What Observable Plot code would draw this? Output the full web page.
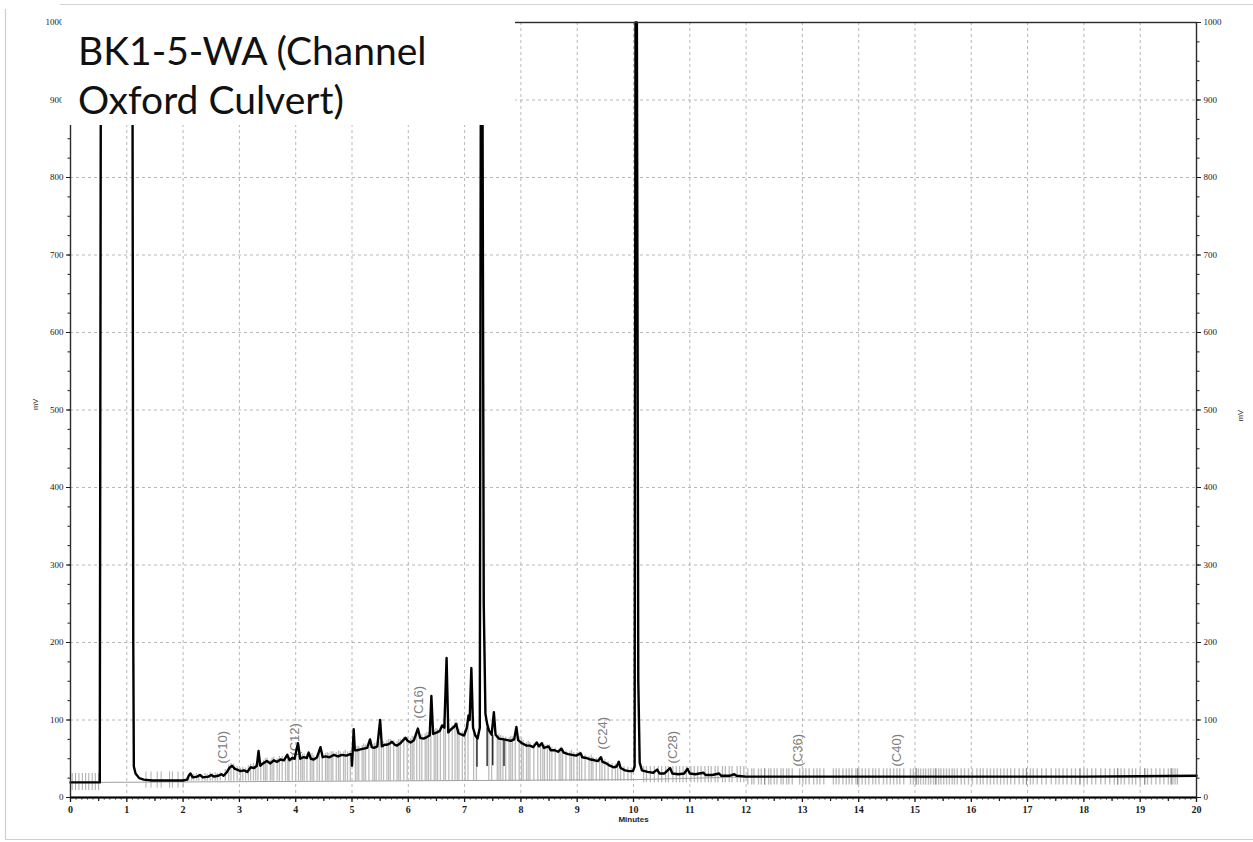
<!DOCTYPE html>
<html>
<head>
<meta charset="utf-8">
<script src="https://cdn.jsdelivr.net/npm/d3@7"></script>
<script src="https://cdn.jsdelivr.net/npm/@observablehq/plot@0.6"></script>
<style>
  body { margin: 0; background: #fff; }
  #wrap { position: relative; width: 1253px; height: 842px; overflow: hidden; background: #fff; }
  #chart { position: absolute; left: 0; top: 0; }
  #overlay { position: absolute; left: 0; top: 0; pointer-events: none; }
</style>
</head>
<body>
<div id="wrap">
  <div id="chart"></div>
  <svg id="overlay" width="1253" height="842">
    <!-- sheet border -->
    <line x1="5.5" y1="9" x2="5.5" y2="839" stroke="#cfcfcf" stroke-width="1.2"/>
    <line x1="5" y1="839.5" x2="1253" y2="839.5" stroke="#cfcfcf" stroke-width="1.2"/>
    <line x1="60" y1="4.5" x2="1253" y2="4.5" stroke="#d4d4d4" stroke-width="1.2"/>
    <!-- sample name panel -->
    <rect x="62" y="6" width="453" height="119" fill="#fff"/>
    <text x="78" y="65" font-family="Lato" font-size="39" fill="#111">BK1-5-WA (Channel</text>
    <text x="78" y="114" font-family="Lato" font-size="39" fill="#111">Oxford Culvert)</text>
  </svg>
</div>
<script>
// FID chromatogram: retention time (min) vs detector response (mV)
const solventFront = [
  [0, 19.5], [0.52, 19.5], [0.54, 1000], [1.10, 1000], [1.115, 200], [1.125, 40],
  [1.155, 31], [1.22, 25], [1.30, 23], [1.45, 22], [1.70, 22], [2.00, 22]
];

const hydrocarbonHump = [
  [2.07, 23], [2.10, 28], [2.13, 31], [2.17, 26], [2.25, 27], [2.30, 29], [2.35, 26],
  [2.45, 27], [2.50, 29], [2.55, 27], [2.62, 28], [2.68, 30], [2.72, 28], [2.78, 33],
  [2.82, 38], [2.87, 41], [2.92, 37], [2.96, 36], [3.02, 34], [3.08, 35], [3.14, 33],
  [3.20, 39], [3.26, 38], [3.31, 41], [3.34, 60], [3.37, 41], [3.42, 44], [3.49, 47],
  [3.55, 44], [3.61, 48], [3.67, 46], [3.73, 49], [3.79, 48], [3.85, 55], [3.89, 48],
  [3.94, 51], [3.98, 50], [4.04, 70], [4.08, 50], [4.14, 52], [4.20, 51], [4.23, 58],
  [4.27, 50], [4.32, 49], [4.38, 52], [4.44, 65], [4.48, 52], [4.53, 53], [4.60, 52],
  [4.68, 55], [4.75, 53], [4.82, 55], [4.90, 54], [4.97, 56], [4.99, 56], [5.00, 41],
  [5.01, 56], [5.03, 88], [5.05, 61], [5.09, 61], [5.15, 62], [5.21, 63], [5.27, 64],
  [5.32, 75], [5.35, 65], [5.39, 64], [5.45, 66], [5.50, 100], [5.53, 66], [5.58, 68],
  [5.62, 68], [5.68, 70], [5.71, 72], [5.76, 68], [5.80, 67], [5.86, 70], [5.91, 74],
  [5.95, 77], [5.99, 73], [6.04, 71], [6.10, 74], [6.17, 89], [6.21, 77], [6.27, 76],
  [6.33, 78], [6.38, 80], [6.41, 131], [6.44, 82], [6.51, 84], [6.56, 86], [6.60, 93],
  [6.64, 90], [6.68, 180], [6.71, 84], [6.76, 88], [6.81, 91], [6.85, 95], [6.89, 83],
  [6.95, 81], [6.99, 80], [7.04, 90], [7.07, 106], [7.09, 100], [7.12, 167], [7.15, 90],
  [7.19, 80], [7.23, 76], [7.27, 90], [7.29, 1000], [7.315, 1000], [7.34, 250],
  [7.37, 108], [7.40, 95], [7.43, 87], [7.48, 81], [7.52, 110], [7.55, 81], [7.61, 76],
  [7.70, 75], [7.76, 74], [7.82, 73], [7.88, 75], [7.92, 91], [7.95, 74], [8.02, 70],
  [8.10, 67], [8.16, 67], [8.22, 65], [8.28, 71], [8.32, 66], [8.37, 70], [8.41, 64],
  [8.49, 66], [8.53, 61], [8.60, 61], [8.66, 59], [8.72, 63], [8.76, 58], [8.84, 56],
  [8.91, 55], [8.98, 54], [9.06, 57], [9.09, 52], [9.16, 51], [9.24, 49], [9.31, 48],
  [9.37, 47], [9.42, 52], [9.45, 46], [9.52, 44], [9.58, 41], [9.65, 39], [9.70, 40],
  [9.74, 46], [9.77, 38], [9.85, 35], [9.92, 34], [9.99, 34], [10.02, 40]
];

const lateElution = [
  [10.035, 1000], [10.06, 1000], [10.085, 150], [10.11, 45], [10.15, 35], [10.25, 33],
  [10.35, 32], [10.42, 36], [10.46, 31], [10.55, 31], [10.65, 38], [10.69, 31],
  [10.80, 30], [10.90, 31], [10.96, 37], [11.00, 31], [11.10, 30], [11.24, 32],
  [11.28, 29], [11.40, 29], [11.52, 31], [11.56, 28], [11.70, 28], [11.79, 30],
  [11.83, 28], [12, 27], [13, 27], [14, 27], [15, 27], [16, 27], [17, 27], [18, 27],
  [19, 27.5], [20, 28]
];

// Integration baseline
const integrationBaseline = [[0.52, 19.5], [10.0, 23], [12.0, 26.5]];

// Peak-event markers (retention times) and their vertical extents in mV
const earlyEventTimes = [0.03, 0.09, 0.15, 0.21, 0.27, 0.325, 0.385, 0.44, 0.50];
const earlyEventSpan = [9, 31];
const solventTailEventTimes = [1.34, 1.43, 1.54, 1.61, 1.76, 1.81, 1.91, 2.00];
const solventTailEventSpan = [12, 33];
const humpEventFloor = 21;
const humpEvents = [
  [2.10, 30], [2.15, 31], [2.19, 30], [2.24, 31], [2.28, 30], [2.34, 29], [2.39, 31],
  [2.43, 30], [2.48, 32], [2.52, 31], [2.57, 32], [2.61, 31], [2.66, 32], [2.75, 36],
  [2.81, 42], [2.85, 44], [2.90, 43], [2.96, 40], [3.02, 38], [3.06, 39], [3.11, 38],
  [3.16, 41], [3.20, 43], [3.25, 44], [3.29, 43], [3.33, 47], [3.38, 46], [3.43, 48],
  [3.46, 50], [3.49, 51], [3.55, 48], [3.58, 51], [3.61, 52], [3.67, 50], [3.71, 53],
  [3.76, 53], [3.82, 52], [3.86, 56], [3.88, 53], [3.94, 55], [4.00, 54], [4.05, 57],
  [4.09, 54], [4.12, 56], [4.15, 56], [4.20, 56], [4.26, 55], [4.29, 57], [4.32, 54],
  [4.38, 56], [4.42, 58], [4.47, 56], [4.53, 57], [4.56, 58], [4.59, 57], [4.63, 59],
  [4.66, 59], [4.72, 58], [4.76, 60], [4.79, 59], [4.85, 59], [4.88, 61], [4.92, 59],
  [4.97, 60], [5.06, 65], [5.09, 66], [5.12, 66], [5.18, 67], [5.21, 69], [5.24, 68],
  [5.30, 69], [5.37, 68], [5.40, 70], [5.43, 70], [5.48, 71], [5.52, 73], [5.56, 72],
  [5.62, 73], [5.65, 75], [5.68, 75], [5.74, 73], [5.80, 72], [5.83, 75], [5.86, 75],
  [5.92, 78], [5.98, 78], [6.04, 76], [6.07, 79], [6.10, 78], [6.15, 82], [6.20, 82],
  [6.24, 81], [6.30, 82], [6.33, 84], [6.36, 84], [6.40, 86], [6.46, 87], [6.49, 89],
  [6.52, 88], [6.57, 90], [6.63, 94], [6.66, 96], [6.72, 89], [6.78, 93], [6.83, 97],
  [6.87, 96], [6.90, 88], [6.96, 85], [7.01, 86], [7.06, 95], [7.16, 88], [7.21, 80],
  [7.43, 90], [7.48, 85], [7.58, 80], [7.61, 82], [7.64, 80], [7.68, 79], [7.73, 78],
  [7.79, 77], [7.82, 79], [7.85, 78], [7.90, 80], [7.97, 78], [8.01, 77], [8.04, 74],
  [8.10, 71], [8.13, 73], [8.16, 71], [8.23, 69], [8.30, 70], [8.35, 70], [8.39, 71],
  [8.42, 68], [8.47, 68], [8.51, 68], [8.55, 65], [8.61, 64], [8.68, 63], [8.71, 65],
  [8.74, 62], [8.80, 60], [8.87, 59], [8.90, 61], [8.94, 58], [9.00, 58], [9.04, 59],
  [9.08, 56], [9.14, 55], [9.21, 53], [9.25, 55], [9.28, 52], [9.34, 51], [9.40, 50],
  [9.44, 52], [9.49, 49], [9.55, 46], [9.62, 44], [9.68, 43], [9.72, 46], [9.77, 42],
  [9.83, 40], [9.90, 39], [9.96, 38]
];
// Darker event strokes below the main peak: [time, bottom, top]
const mainPeakEvents = [[7.22, 39, 77], [7.40, 40, 90], [7.50, 41, 80], [7.70, 40, 75]];

const tailEventTimes = [
  10.18, 10.23, 10.30, 10.37, 10.44, 10.50, 10.57, 10.62, 10.70, 10.76, 10.82, 10.88,
  10.94, 11.02, 11.08, 11.14, 11.20, 11.27, 11.33, 11.38, 11.45, 11.50, 11.58, 11.63,
  11.70, 11.75, 11.84, 11.90, 11.96
];
const tailEventSpan = [19, 40];
const plateauEventTimes = [
  12.03, 12.10, 12.14, 12.22, 12.27, 12.33, 12.40, 12.44, 12.50, 12.55, 12.62, 12.66,
  12.72, 12.76, 12.82, 12.95, 13.01, 13.06, 13.12, 13.20, 13.26, 13.31, 13.38, 13.55,
  13.60, 13.65, 13.72, 13.78, 13.83, 13.88, 13.95, 14.00, 14.06, 14.12, 14.18, 14.25,
  14.30, 14.36, 14.44, 14.50, 14.56, 14.62, 14.68, 14.73, 14.80, 14.92, 14.97, 15.02,
  15.06, 15.10, 15.15, 15.19, 15.24, 15.28, 15.33, 15.37, 15.42, 15.46, 15.51, 15.56,
  15.61, 15.66, 15.70, 15.75, 15.82, 15.88, 15.95, 16.02, 16.10, 16.16, 16.21, 16.28,
  16.34, 16.40, 16.46, 16.52, 16.58, 16.64, 16.70, 16.77, 16.85, 16.92, 16.98, 17.05,
  17.10, 17.17, 17.25, 17.33, 17.42, 17.50, 17.56, 17.63, 17.70, 17.78, 17.85, 17.93,
  18.00, 18.06, 18.14, 18.21, 18.30, 18.38, 18.46, 18.54, 18.60, 18.66, 18.72, 18.80,
  18.86, 18.92, 19.00, 19.08, 19.13, 19.20, 19.28, 19.35, 19.42, 19.50, 19.55, 19.58,
  19.62, 19.66
];
const plateauDarkTimes = [12.33, 13.98, 15.02, 15.37, 16.98, 17.93, 18.60, 19.08, 19.55];
const plateauEventSpan = [16, 37];

// n-alkane retention markers
const carbonLabels = ["(C10)", "(C12)", "(C16)", "(C24)", "(C28)", "(C36)", "(C40)"];
const carbonTimes = [2.70, 3.98, 6.18, 9.45, 10.69, 12.91, 14.67];
const carbonLabelBase = [44, 54, 102, 62, 44, 40, 40];

// Axis ticks
const minuteTicks = [0, 1, 2, 3, 4, 5, 6, 7, 8, 9, 10, 11, 12, 13, 14, 15, 16, 17, 18, 19, 20];
const mvTicks = [0, 100, 200, 300, 400, 500, 600, 700, 800, 900, 1000];

const minorMinuteTicks = d3.range(0, 20.001, 0.1).map(v => +v.toFixed(1));
const halfMinuteTicks = d3.range(0.5, 20, 1);
const minorMvTicks = d3.range(0, 1000.001, 25);

const trace = solventFront.concat(hydrocarbonHump, lateElution);
const carbonMarks = carbonLabels.map((label, i) => ({label, t: carbonTimes[i], mv: carbonLabelBase[i]}));
const blank = () => "";
const plain = d => String(d);

const chart = Plot.plot({
  width: 1253,
  height: 842,
  marginLeft: 70,
  marginRight: 57,
  marginTop: 22,
  marginBottom: 45,
  x: {domain: [0, 20]},
  y: {domain: [0, 1000]},
  style: {fontFamily: "Liberation Serif", color: "#1a1a1a", background: "#fff", overflow: "visible"},
  marks: [
    Plot.gridX(minuteTicks, {stroke: "#9a9a9a", strokeOpacity: 0.7, strokeDasharray: "3,3"}),
    Plot.gridY(mvTicks, {stroke: "#9a9a9a", strokeOpacity: 0.7, strokeDasharray: "3,3"}),

    // event markers
    Plot.ruleX(earlyEventTimes, {x: d => d, y1: earlyEventSpan[0], y2: earlyEventSpan[1], stroke: "#a8a8a8", strokeWidth: 1}),
    Plot.ruleX(solventTailEventTimes, {x: d => d, y1: solventTailEventSpan[0], y2: solventTailEventSpan[1], stroke: "#b0b0b0", strokeWidth: 1}),
    Plot.ruleX(humpEvents, {x: d => d[0], y1: humpEventFloor, y2: d => d[1], stroke: "#bcbcbc", strokeWidth: 1.3}),
    Plot.ruleX(tailEventTimes, {x: d => d, y1: tailEventSpan[0], y2: tailEventSpan[1], stroke: "#b4b4b4", strokeWidth: 1.2}),
    Plot.ruleX(plateauEventTimes, {x: d => d, y1: plateauEventSpan[0], y2: plateauEventSpan[1], stroke: "#bdbdbd", strokeWidth: 1.4}),
    Plot.ruleX(plateauDarkTimes, {x: d => d, y1: plateauEventSpan[0], y2: plateauEventSpan[1], stroke: "#8a8a8a", strokeWidth: 1}),
    Plot.line(integrationBaseline, {x: d => d[0], y: d => d[1], stroke: "#a0a0a0", strokeWidth: 1}),
    Plot.ruleX(mainPeakEvents, {x: d => d[0], y1: d => d[1], y2: d => d[2], stroke: "#222", strokeWidth: 1.4}),

    // carbon-range markers
    Plot.text(carbonMarks, {
      x: "t", y: "mv", text: "label", rotate: -90, textAnchor: "start",
      fill: "#7d7d7d", fontSize: 13, fontFamily: "Liberation Sans"
    }),

    // detector trace
    Plot.line(trace, {x: d => d[0], y: d => d[1], stroke: "#000", strokeWidth: 2.4, strokeLinejoin: "round"}),

    Plot.frame({stroke: "#2a2a2a", strokeWidth: 1.4}),
    Plot.ruleY([0], {stroke: "#000", strokeWidth: 1.8}),

    // axes
    Plot.axisX(minorMinuteTicks, {anchor: "bottom", tickSize: 2.5, tickFormat: blank, label: null, strokeWidth: 1}),
    Plot.axisX(halfMinuteTicks, {anchor: "bottom", tickSize: 4, tickFormat: blank, label: null, strokeWidth: 1.2}),
    Plot.axisX(minuteTicks, {anchor: "bottom", tickSize: 5, tickPadding: 3, tickFormat: plain, label: null, fontSize: 10, fontWeight: "bold", strokeWidth: 1.3}),
    Plot.axisY(minorMvTicks, {anchor: "left", tickSize: 2.5, tickFormat: blank, label: null}),
    Plot.axisY(minorMvTicks, {anchor: "right", tickSize: 2.5, tickFormat: blank, label: null}),
    Plot.axisY(mvTicks, {anchor: "left", tickSize: 4, tickPadding: 3, tickFormat: plain, label: null, fontSize: 9}),
    Plot.axisY(mvTicks, {anchor: "right", tickSize: 4, tickPadding: 3, tickFormat: plain, label: null, fontSize: 9}),

    Plot.text(["Minutes"], {frameAnchor: "bottom", dy: 24, fontSize: 8, fontWeight: "bold", fontFamily: "Liberation Sans", fill: "#222"}),
    Plot.text(["mV"], {frameAnchor: "left", dx: -35, rotate: -90, fontSize: 7.5, fontFamily: "Liberation Sans", fill: "#222"}),
    Plot.text(["mV"], {frameAnchor: "right", dx: 44, rotate: -90, fontSize: 7.5, fontFamily: "Liberation Sans", fill: "#222"})
  ]
});

document.getElementById("chart").appendChild(chart);
</script>
</body>
</html>
